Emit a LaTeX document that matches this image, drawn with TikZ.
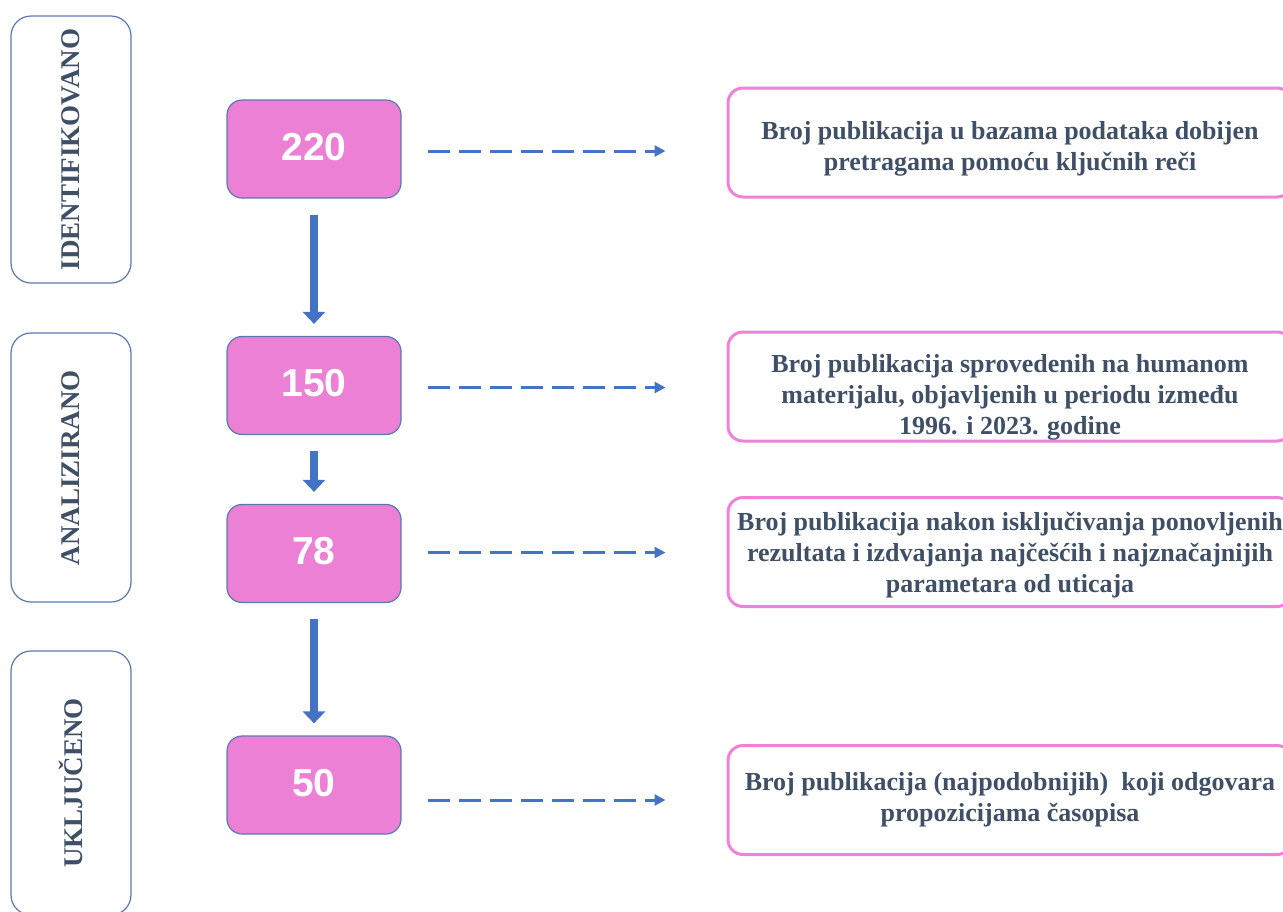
\documentclass[tikz,border=0pt]{standalone}
\usepackage{fontspec}
\setmainfont{Liberation Serif}
\newfontfamily\numfont{Liberation Sans}
\usetikzlibrary{arrows.meta}
\definecolor{stageblue}{HTML}{5A78B0}
\definecolor{boxpink}{HTML}{EC80D5}
\definecolor{edgepink}{HTML}{EE82D8}
\definecolor{arrowblue}{HTML}{4472C4}
\definecolor{textslate}{HTML}{3F4F66}
% pushes a description down inside its frame
\newcommand{\topgap}[1]{\rule{0pt}{#1}}

\tikzset{
  stage/.style={draw=stageblue,line width=1.2pt,rounded corners=20pt,minimum height=120pt,inner sep=0pt,
    rotate=90,text=textslate,font=\fontsize{27}{30}\selectfont\bfseries},
  count/.style={draw=stageblue,fill=boxpink,line width=1.2pt,rounded corners=15pt,minimum width=174pt,
    minimum height=98pt,text height=28pt,text depth=6pt,text=white,font=\numfont\fontsize{39}{42}\selectfont\bfseries},
  desc/.style={draw=edgepink,line width=3pt,rounded corners=15pt,minimum width=564pt,minimum height=109pt,
    inner sep=0pt,align=center,text=textslate,font=\fontsize{26}{31}\selectfont\bfseries},
  flow/.style={draw=arrowblue,line width=8pt,-{Triangle[width=22pt,length=12pt]},shorten <=16pt,shorten >=12pt},
  dasharrow/.style={draw=arrowblue,line width=3pt,dash pattern=on 22pt off 9pt,-{Triangle[width=11pt,length=11pt]},
    shorten <=26pt,shorten >=61pt}
}

\begin{document}
\begin{tikzpicture}[x=1pt,y=-1pt]
\useasboundingbox (0,0) rectangle (1283,911);
\clip (0,0) rectangle (1283,911);

% stages
\node[stage,minimum width=267pt] at (71,149.5) (ident) {IDENTIFIKOVANO};
\node[stage,minimum width=269pt] at (71,467.5) (anal) {ANALIZIRANO};
\node[stage,minimum width=264pt] at (71,783) (uklj) {UKLJUČENO};

% counts
\node[count] at (314,149) (n220) {220};
\node[count] at (314,385.5) (n150) {150};
\node[count] at (314,553.5) (n78) {78};
\node[count] at (314,785) (n50) {50};

% descriptions
\node[desc] at (1010,142.5) (d1) {\topgap{31pt}Broj publikacija u bazama podataka dobijen\\pretragama pomoću ključnih reči};
\node[desc] at (1010,386.5) (d2) {\topgap{39pt}Broj publikacija sprovedenih na humanom\\materijalu, objavljenih u periodu između\\1996. i 2023. godine};
\node[desc] at (1010,552) (d3) {\topgap{25pt}Broj publikacija nakon isključivanja ponovljenih\\rezultata i izdvajanja najčešćih i najznačajnijih\\parametara od uticaja};
\node[desc] at (1010,800) (d4) {Broj publikacija (najpodobnijih)\ \ koji odgovara\\propozicijama časopisa};

\draw[flow] (n220) -- (n150);
\draw[flow] (n150) -- (n78);
\draw[flow] (n78) -- (n50);

\draw[dasharrow] ([yshift=-2pt]n220.east) -- ([yshift=-2pt]n220.east -| d1.west);
\draw[dasharrow] ([yshift=-2pt]n150.east) -- ([yshift=-2pt]n150.east -| d2.west);
\draw[dasharrow] ([yshift=1pt]n78.east) -- ([yshift=1pt]n78.east -| d3.west);
\draw[dasharrow] ([yshift=-15pt]n50.east) -- ([yshift=-15pt]n50.east -| d4.west);
\end{tikzpicture}
\end{document}
